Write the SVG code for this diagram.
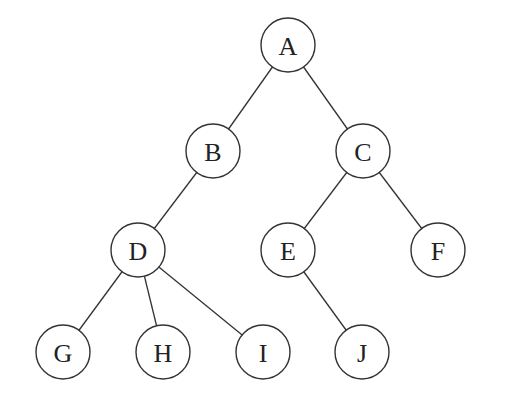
<svg xmlns="http://www.w3.org/2000/svg" width="507" height="404" viewBox="0 0 507 404">
<style>
.n circle{fill:#fff;stroke:#333;stroke-width:1.4}
.n text{font-family:"Liberation Serif",serif;font-size:26px;fill:#222;text-anchor:middle;dominant-baseline:central}
.e line{stroke:#333;stroke-width:1.3}
</style>
<rect width="507" height="404" fill="#fff"/>
<g id="edges" class="e">
<line x1="288" y1="45" x2="213" y2="151"/>
<line x1="288" y1="45" x2="363" y2="151"/>
<line x1="213" y1="151" x2="138" y2="250"/>
<line x1="363" y1="151" x2="288" y2="250"/>
<line x1="363" y1="151" x2="438" y2="250"/>
<line x1="138" y1="250" x2="63" y2="352"/>
<line x1="138" y1="250" x2="163" y2="352"/>
<line x1="138" y1="250" x2="263" y2="352"/>
<line x1="288" y1="250" x2="362" y2="352"/>
</g>
<g id="A" class="n"><circle cx="288" cy="45" r="27"/><text x="288" y="46">A</text></g>
<g id="B" class="n"><circle cx="213" cy="151" r="27"/><text x="213" y="152">B</text></g>
<g id="C" class="n"><circle cx="363" cy="151" r="27"/><text x="363" y="152">C</text></g>
<g id="D" class="n"><circle cx="138" cy="250" r="27"/><text x="138" y="251">D</text></g>
<g id="E" class="n"><circle cx="288" cy="250" r="27"/><text x="288" y="251">E</text></g>
<g id="F" class="n"><circle cx="438" cy="250" r="27"/><text x="438" y="251">F</text></g>
<g id="G" class="n"><circle cx="63" cy="352" r="27"/><text x="63" y="353">G</text></g>
<g id="H" class="n"><circle cx="163" cy="352" r="27"/><text x="163" y="353">H</text></g>
<g id="I" class="n"><circle cx="263" cy="352" r="27"/><text x="263" y="353">I</text></g>
<g id="J" class="n"><circle cx="362" cy="352" r="27"/><text x="362" y="353">J</text></g>
</svg>
